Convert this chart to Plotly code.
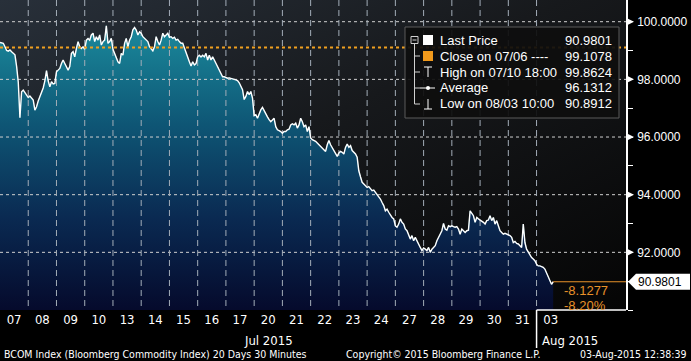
import base64
import plotly.graph_objects as go

# ---------------- data ----------------
day_labels = ["07", "08", "09", "10", "13", "14", "15", "16", "17", "20",
              "21", "22", "23", "24", "27", "28", "29", "30", "31", "03"]
month_labels = ["Jul 2015", "Aug 2015"]
bars_per_day = 17  # 30-minute bars per session (as drawn)

prices_1 = [99.28, 99.27, 99.25, 99.13, 99.00, 98.98, 99.02, 98.96, 98.92, 98.85,
            98.45, 97.90, 96.67, 97.57, 97.63, 97.53, 97.45, 97.37, 97.42, 97.34,
            97.28, 96.93, 97.05, 97.25, 97.40, 97.57, 97.70, 97.95, 98.30, 97.95,
            97.74, 97.92, 97.84, 97.86, 98.26, 98.32, 98.38, 98.55, 98.67, 98.55,
            98.44, 98.32, 98.44, 98.90, 98.96, 98.78, 99.07, 99.31, 99.13, 99.07,
            99.13, 99.04, 99.36, 99.42, 99.36, 99.54, 99.60, 99.31, 99.48, 99.36,
            99.54, 99.19, 99.31, 99.36, 99.86, 99.25, 99.31, 99.42, 99.04]
prices_2 = [98.90, 98.75, 98.61, 98.55, 98.90, 98.84, 99.25, 99.42, 99.13, 99.36,
            99.48, 99.72, 99.80, 99.71, 99.54, 99.65, 99.60, 99.48, 99.42, 99.39,
            99.31, 99.13, 99.04, 98.99, 99.13, 99.48, 99.31, 99.19, 99.36, 99.60,
            99.48, 99.54, 99.60, 99.46, 99.48, 99.42, 99.46, 99.36, 99.39, 99.31,
            99.25, 99.25, 99.07, 98.90, 98.73, 98.61, 98.46, 98.61, 98.50, 98.55,
            98.78, 98.84, 98.78, 98.84, 98.78, 98.90, 98.67, 98.84, 98.67, 98.78,
            98.67, 98.55, 98.44, 98.32, 98.15, 98.09, 98.09]
prices_3 = [98.05, 98.04, 98.05, 98.04, 98.02, 98.00, 97.98, 97.96, 97.88, 97.76,
            97.64, 97.30, 97.41, 97.58, 97.47, 97.58, 97.35, 96.74, 96.77, 96.65,
            96.83, 96.94, 97.03, 96.90, 96.80, 96.70, 96.60, 96.53, 96.59, 96.65,
            96.36, 96.25, 96.22, 96.19, 96.13, 96.19, 96.19, 96.25, 96.27, 96.42,
            96.46, 96.42, 96.48, 96.31, 96.42, 96.65, 96.53, 96.36, 96.42, 96.19,
            96.36, 95.97, 95.91, 95.88, 95.85, 95.79, 95.73, 95.68, 95.62, 95.56,
            95.50, 95.73, 95.88, 95.73, 95.62, 95.50, 95.39, 95.33, 95.45, 95.50,
            95.47]
prices_4 = [95.41, 95.64, 95.76, 95.64, 95.70, 95.53, 95.47, 95.41, 95.30, 94.83,
            94.62, 94.43, 94.37, 94.31, 94.25, 94.28, 94.20, 94.14, 94.16, 94.08,
            94.02, 93.91, 93.85, 93.73, 93.62, 93.44, 93.50, 93.39, 93.27, 93.21,
            93.16, 92.92, 92.87, 92.98, 93.16, 93.04, 92.98, 92.81, 92.75, 92.63,
            92.46, 92.58, 92.40, 92.52, 92.40, 92.23, 92.17, 92.06, 92.15, 92.11,
            92.06, 92.17, 92.00, 92.11, 92.17, 92.23, 92.40, 92.52, 92.58, 92.75,
            93.00]
prices_5 = [92.81, 92.77, 92.92, 92.89, 92.92, 92.89, 92.87, 92.89, 92.81, 92.63,
            92.81, 92.75, 92.69, 92.75, 92.77, 93.44, 93.35, 93.27, 93.04, 93.21,
            93.16, 93.12, 93.10, 93.04, 92.98, 93.10, 93.12, 93.27, 93.10, 93.21,
            92.98, 93.10, 92.92, 92.75, 92.69, 92.63, 92.66, 92.63, 92.61, 92.58,
            92.52, 92.34, 92.38, 92.31, 92.29, 92.23, 92.17, 92.98, 92.34, 92.11,
            92.00, 91.94, 91.82, 91.77, 91.71, 91.59, 91.53, 91.53, 91.50, 91.48,
            91.42, 91.30, 91.19, 91.07, 90.89, 90.98]

close_prev = 99.1078
last_price = 90.9801
high_price = 99.8624
avg_price = 96.1312
low_price = 90.8912
net_change = -8.1277
pct_change = -8.20

y_ticks = [92, 94, 96, 98, 100]
y_minor = [90, 91, 92, 93, 94, 95, 96, 97, 98, 99, 100]

legend_rows = [
    ("Last Price", last_price),
    ("Close on 07/06 ----", close_prev),
    ("High on 07/10 18:00", high_price),
    ("Average", avg_price),
    ("Low on 08/03 10:00", low_price),
]

footer_left = "BCOM Index (Bloomberg Commodity Index) 20 Days 30 Minutes"
footer_mid = "Copyright\u00a9 2015 Bloomberg Finance L.P."
footer_right = "03-Aug-2015 12:38:39"

# ---------------- derived ----------------
prices = prices_1 + prices_2 + prices_3 + prices_4 + prices_5
xs = [i / bars_per_day for i in range(len(prices))]
n_days = len(day_labels)

W, H = 626, 310
FIG_W, FIG_H = 691, 361
day_px = 28.24
unit_px = 28.83
x_max = W / day_px
y_min, y_max = 90.0, 100.0 + 21.7 / unit_px


def px(v):
    return v / W


def py(v):
    return (H - v) / H


NARROW = "Liberation Sans Narrow, DejaVu Sans Condensed, Arial Narrow, sans-serif"
MAIN = "Liberation Sans, Arial, sans-serif"
ORANGE = "#e8922a"

fig = go.Figure()

# price area (gradient fill)
fig.add_trace(go.Scatter(
    x=xs, y=prices, mode="lines",
    line=dict(color="#1e97a6", width=0.5),
    fill="tozeroy",
    fillgradient=dict(type="vertical", start=y_min, stop=y_max,
                      colorscale=[[0, "#050a2c"], [0.3, "#0a2a52"],
                                  [0.6, "#0e5675"], [1, "#1e97a6"]]),
    hoverinfo="skip", showlegend=False,
))

# horizontal grid: short segments (3 px on / 3 px off), drawn above the fill
hx, hy = [], []
seg = 3 / day_px
for v in y_ticks:
    t = 0.0
    while t < x_max:
        hx += [t, min(t + seg, x_max), None]
        hy += [v, v, None]
        t += 2 * seg
fig.add_trace(go.Scatter(x=hx, y=hy, mode="lines",
                         line=dict(color="#cfcfcf", width=1),
                         hoverinfo="skip", showlegend=False))
# vertical day grid: 6 px on / 4 px off
vx, vy = [], []
on, off = 6 / unit_px, 4 / unit_px
for d in range(1, n_days):
    t = y_max
    while t > y_min:
        vx += [d, d, None]
        vy += [t, max(t - on, y_min), None]
        t -= on + off
fig.add_trace(go.Scatter(x=vx, y=vy, mode="lines",
                         line=dict(color="#a3adb8", width=1),
                         hoverinfo="skip", showlegend=False))

# price line
fig.add_trace(go.Scatter(
    x=xs, y=prices, mode="lines",
    line=dict(color="white", width=1.4),
    hoverinfo="skip", showlegend=False,
))
# previous close dotted line
fig.add_trace(go.Scatter(
    x=[0, x_max], y=[close_prev, close_prev], mode="lines",
    line=dict(color="#f0a020", width=2, dash="dot"),
    hoverinfo="skip", showlegend=False,
))
# last price line
fig.add_trace(go.Scatter(
    x=[xs[-1], x_max], y=[last_price, last_price], mode="lines",
    line=dict(color=ORANGE, width=1.2),
    hoverinfo="skip", showlegend=False,
))

shapes = []
shapes.append(dict(type="line", xref="x", yref="paper", x0=n_days - 1, x1=x_max, y0=0, y1=0,
                   line=dict(color="white", width=1.5), layer="above"))
shapes.append(dict(type="line", xref="x", yref="paper", x0=n_days - 1, x1=n_days - 1,
                   y0=0, y1=-38 / H, line=dict(color="white", width=1.5), layer="above"))

# arrows on the value axis at labelled ticks
half = 4 / unit_px
for v in y_ticks:
    shapes.append(dict(type="path", xref="paper", yref="y",
                       path=f"M {px(626)},{v - half} L {px(634)},{v} L {px(626)},{v + half} Z",
                       fillcolor="white", line=dict(width=0), layer="above"))

# legend box
shapes.append(dict(type="rect", xref="paper", yref="paper",
                   x0=px(405), x1=px(619), y0=py(27), y1=py(118),
                   fillcolor="rgba(14,14,14,0.93)", line=dict(color="#5a5a5a", width=1),
                   layer="above"))
row_y = [40, 56, 72, 88, 104]
TREE = "#d0d0d0"
shapes.append(dict(type="rect", xref="paper", yref="paper", x0=px(411), x1=px(418),
                   y0=py(36.5), y1=py(43.5), line=dict(color=TREE, width=1), layer="above"))
shapes.append(dict(type="line", xref="paper", yref="paper", x0=px(412.5), x1=px(416.5),
                   y0=py(40), y1=py(40), line=dict(color=TREE, width=1), layer="above"))
shapes.append(dict(type="line", xref="paper", yref="paper", x0=px(414.5), x1=px(414.5),
                   y0=py(43.5), y1=py(row_y[-1]), line=dict(color=TREE, width=1), layer="above"))
for ry in row_y[1:]:
    shapes.append(dict(type="line", xref="paper", yref="paper", x0=px(414.5), x1=px(420),
                       y0=py(ry), y1=py(ry), line=dict(color=TREE, width=1), layer="above"))
shapes.append(dict(type="rect", xref="paper", yref="paper", x0=px(423), x1=px(433),
                   y0=py(35), y1=py(45), fillcolor="white", line=dict(width=0), layer="above"))
shapes.append(dict(type="rect", xref="paper", yref="paper", x0=px(423), x1=px(433),
                   y0=py(51), y1=py(61), fillcolor="#f29a1c", line=dict(width=0), layer="above"))
shapes.append(dict(type="line", xref="paper", yref="paper", x0=px(424), x1=px(432),
                   y0=py(67), y1=py(67), line=dict(color="white", width=1), layer="above"))
shapes.append(dict(type="line", xref="paper", yref="paper", x0=px(428), x1=px(428),
                   y0=py(67), y1=py(77), line=dict(color="white", width=1), layer="above"))
shapes.append(dict(type="line", xref="paper", yref="paper", x0=px(420), x1=px(435),
                   y0=py(88), y1=py(88), line=dict(color="white", width=1), layer="above"))
shapes.append(dict(type="circle", xref="paper", yref="paper", x0=px(426), x1=px(430),
                   y0=py(86), y1=py(90), fillcolor="white", line=dict(width=0), layer="above"))
shapes.append(dict(type="line", xref="paper", yref="paper", x0=px(428), x1=px(428),
                   y0=py(99), y1=py(109), line=dict(color="white", width=1), layer="above"))
shapes.append(dict(type="line", xref="paper", yref="paper", x0=px(424), x1=px(432),
                   y0=py(109), y1=py(109), line=dict(color="white", width=1), layer="above"))

# last price tag on the axis
shapes.append(dict(type="path", xref="paper", yref="y",
                   path=f"M {px(628)},{last_price} L {px(636)},{last_price + 0.28} "
                        f"L {px(690)},{last_price + 0.28} L {px(690)},{last_price - 0.28} "
                        f"L {px(636)},{last_price - 0.28} Z",
                   fillcolor="white", line=dict(width=0), layer="above"))

annotations = []
for (label, val), ry in zip(legend_rows, row_y):
    annotations.append(dict(xref="paper", yref="paper", x=px(438), y=py(ry), text=label,
                            showarrow=False, xanchor="left", yanchor="middle",
                            font=dict(family=MAIN, size=13, color="white")))
    annotations.append(dict(xref="paper", yref="paper", x=px(614), y=py(ry), text=f"{val:.4f}",
                            showarrow=False, xanchor="right", yanchor="middle",
                            font=dict(family=MAIN, size=13, color="white")))

annotations.append(dict(xref="paper", yref="y", x=px(636), y=last_price, text=f"{last_price:.4f}",
                        showarrow=False, xanchor="left", yanchor="middle",
                        font=dict(family=MAIN, size=12, color="black")))
annotations.append(dict(xref="paper", yref="paper", x=px(562), y=py(290),
                        text=f"{net_change:.4f}", showarrow=False, xanchor="left", yanchor="middle",
                        font=dict(family=MAIN, size=13, color=ORANGE)))
annotations.append(dict(xref="paper", yref="paper", x=px(562), y=py(305),
                        text=f"{pct_change:.2f}%", showarrow=False, xanchor="left", yanchor="middle",
                        font=dict(family=MAIN, size=13, color=ORANGE)))
annotations.append(dict(xref="x", yref="paper", x=(n_days - 1) / 2, y=py(340), text=month_labels[0],
                        showarrow=False, xanchor="center", yanchor="middle",
                        font=dict(family=NARROW, size=13, color="white")))
annotations.append(dict(xref="x", yref="paper", x=n_days - 1 + 0.12, y=py(340), text=month_labels[1],
                        showarrow=False, xanchor="left", yanchor="middle",
                        font=dict(family=NARROW, size=13, color="white")))
for txt, xp, anc in [(footer_left, 2, "left"), (footer_mid, 344, "left"), (footer_right, 689, "right")]:
    annotations.append(dict(xref="paper", yref="paper", x=px(xp), y=py(354), text=txt,
                            showarrow=False, xanchor=anc, yanchor="middle",
                            font=dict(family=NARROW, size=10.5, color="white")))

# plot-area background gradient (inline SVG, no network)
svg = ('<svg xmlns="http://www.w3.org/2000/svg" width="626" height="310" viewBox="0 0 626 310" '
       'preserveAspectRatio="none"><defs><linearGradient id="g" x1="0" y1="0" x2="1" y2="1">'
       '<stop offset="0" stop-color="#28303a"/><stop offset="0.45" stop-color="#17191c"/>'
       '<stop offset="1" stop-color="#050505"/></linearGradient></defs>'
       '<rect width="626" height="310" fill="url(#g)"/></svg>')
bg_uri = "data:image/svg+xml;base64," + base64.b64encode(svg.encode()).decode()

fig.update_layout(
    width=FIG_W, height=FIG_H,
    margin=dict(l=0, r=FIG_W - W, t=0, b=FIG_H - H),
    paper_bgcolor="black", plot_bgcolor="rgba(0,0,0,0)",
    showlegend=False,
    shapes=shapes, annotations=annotations,
    images=[dict(source=bg_uri, xref="paper", yref="paper", x=0, y=1, sizex=1, sizey=1,
                 xanchor="left", yanchor="top", sizing="stretch", layer="below")],
    xaxis=dict(range=[0, x_max], showgrid=False, zeroline=False, showline=False,
               tickmode="array", tickvals=[d + 0.5 for d in range(n_days)], ticktext=day_labels,
               ticks="", tickfont=dict(family=NARROW, size=13, color="white"), fixedrange=True),
    yaxis=dict(range=[y_min, y_max], side="right", showgrid=False, zeroline=False,
               showline=True, linecolor="white", linewidth=1.5,
               tickmode="array", tickvals=y_minor,
               ticktext=[f"{v:.4f}" if v in y_ticks else "" for v in y_minor],
               ticks="outside", ticklen=5, tickcolor="white", tickwidth=1, ticklabelstandoff=2,
               tickfont=dict(family=MAIN, size=12, color="white"), fixedrange=True),
)

fig.write_html("out.html", config={"displayModeBar": False},
               post_script="document.body.style.margin='0px';")
